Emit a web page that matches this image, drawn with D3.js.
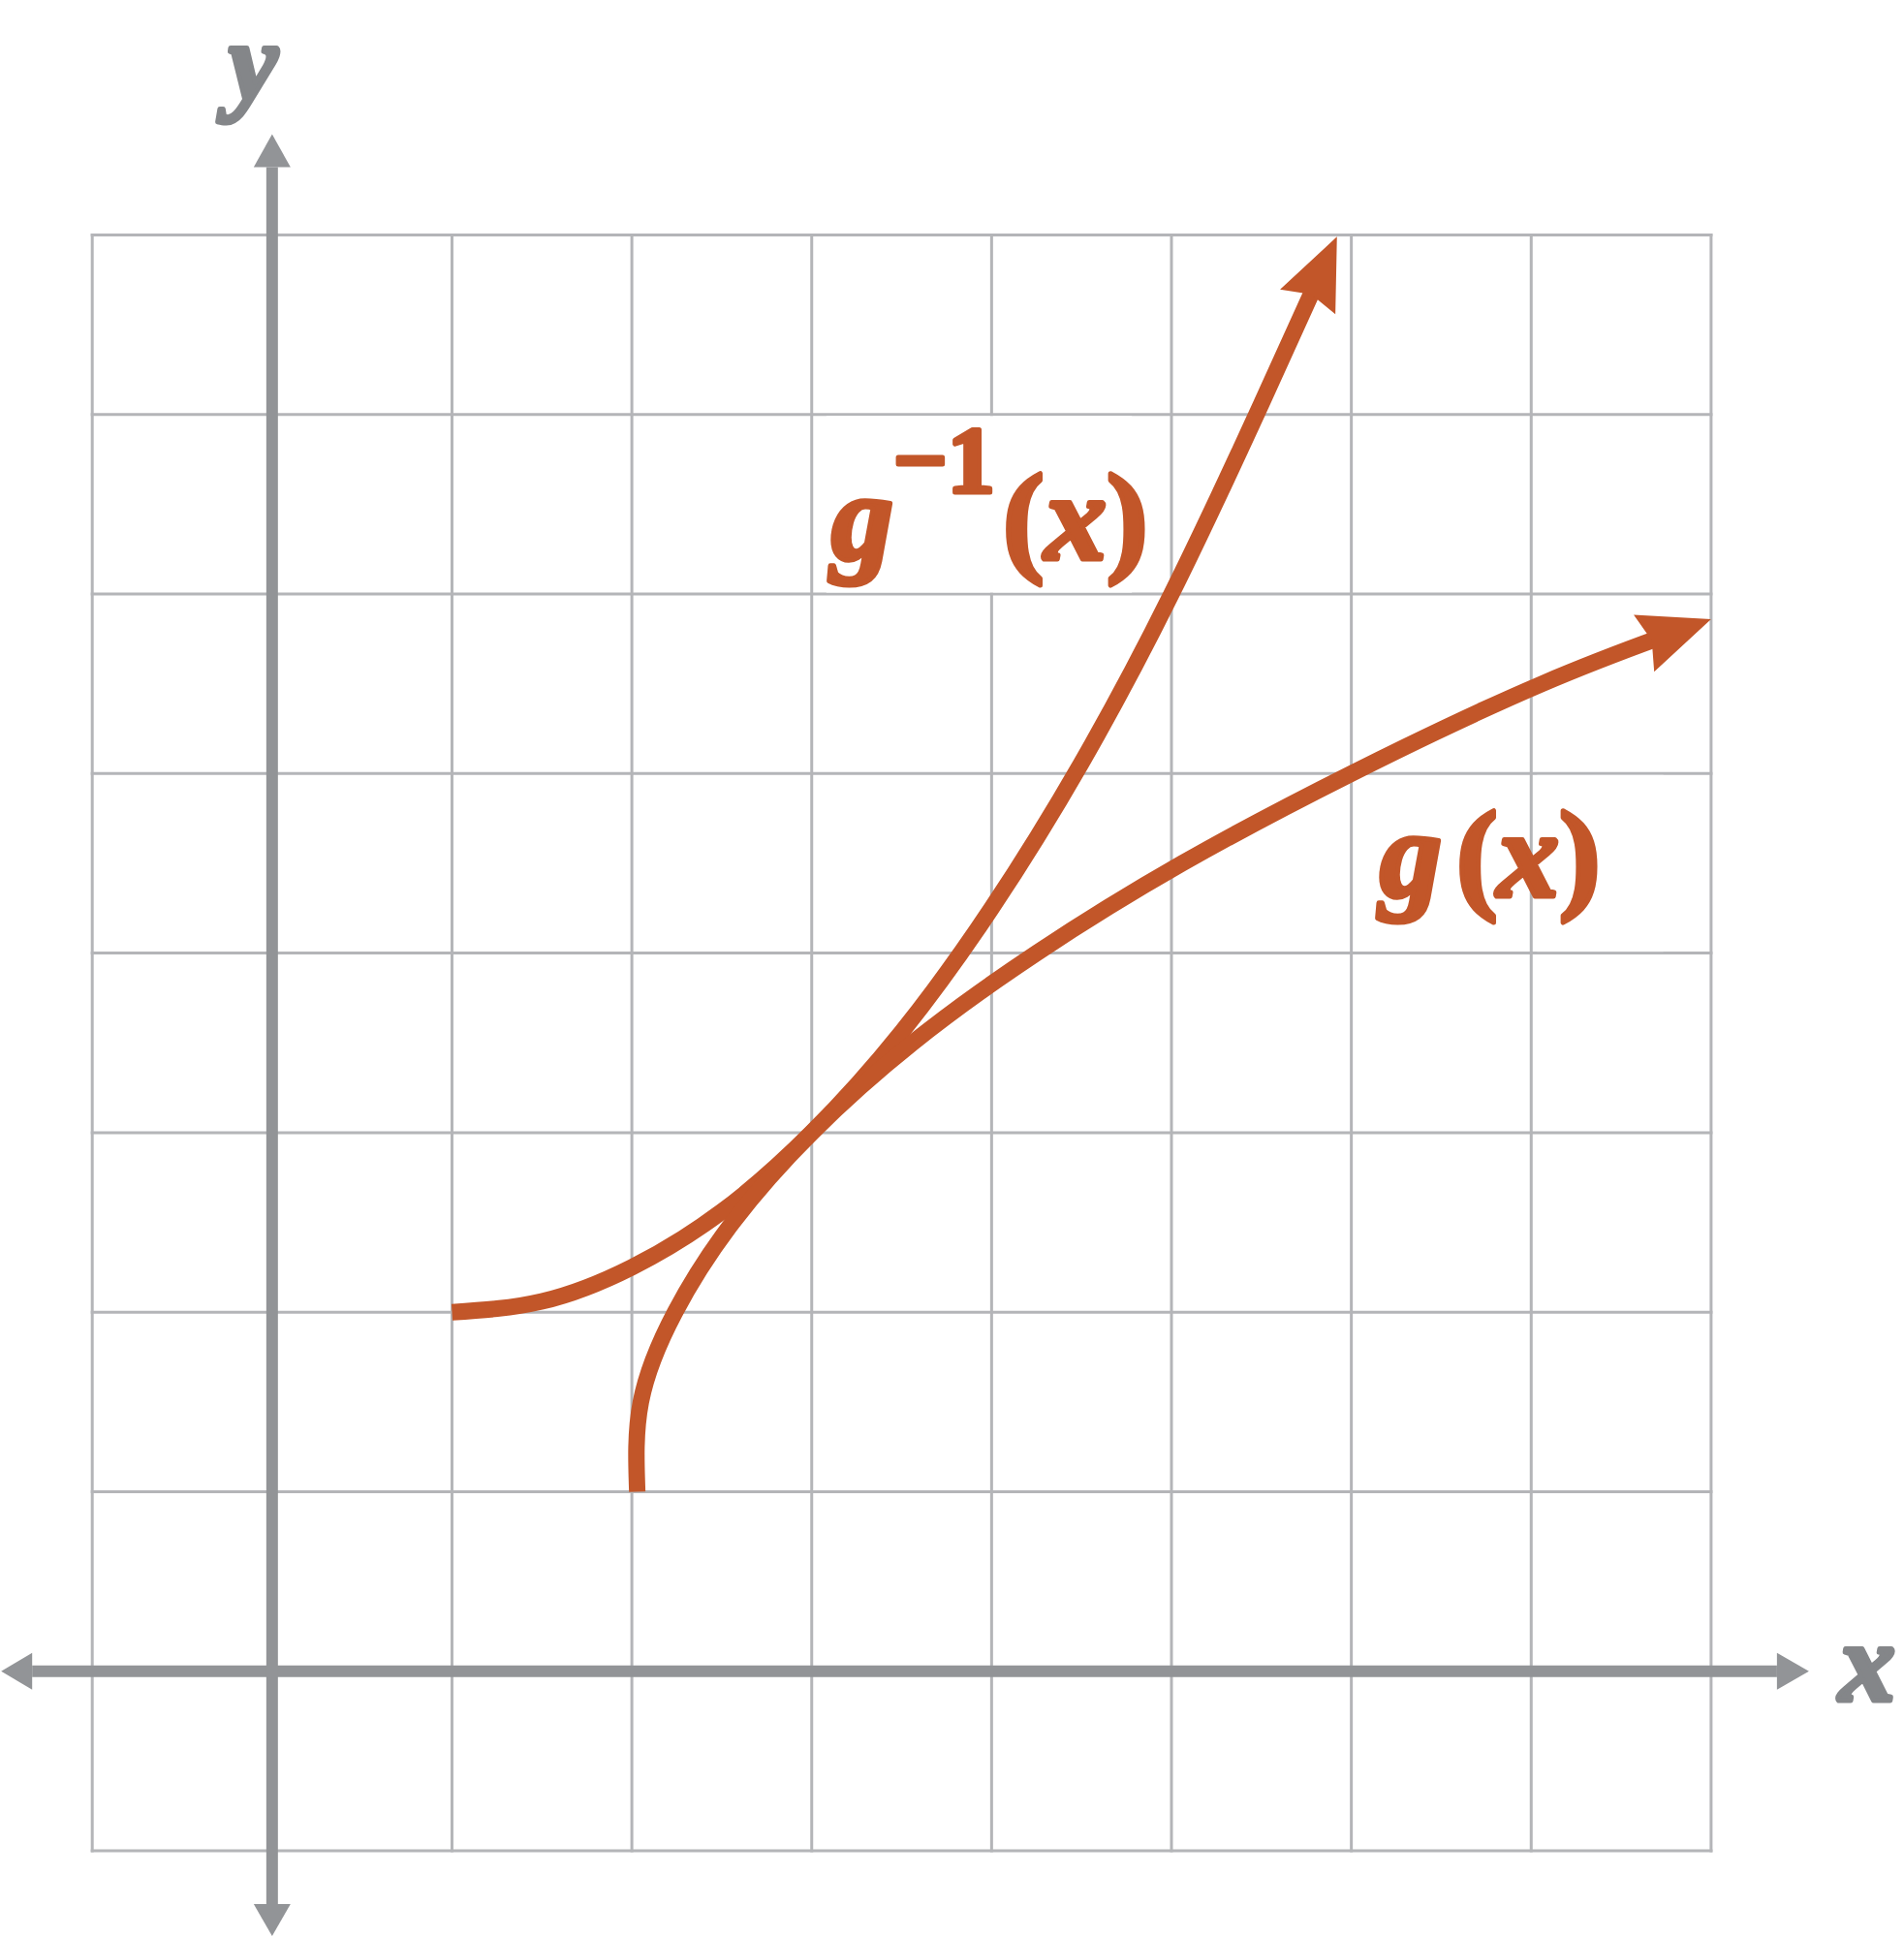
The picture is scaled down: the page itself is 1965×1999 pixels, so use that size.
<!DOCTYPE html>
<html>
<head>
<meta charset="utf-8">
<script src="https://cdn.jsdelivr.net/npm/d3@7"></script>
<style>
    body { margin: 0; background: #fff; }
    svg { display: block; }
    .lbl { font-family: "Liberation Serif", "Times New Roman", Times, serif; font-weight: 700; stroke-linejoin: round; }
</style>
</head>
<body>
<div class="chart"></div>
<script>
// grid lines, one per unit
var gridTicks = [-1, 0, 1, 2, 3, 4, 5, 6, 7, 8];

// g^-1(x)
var gInvX = [1, 1.5, 2, 2.5, 3, 3.5, 4, 4.5, 5, 5.5, 5.92];
var gInvY = [2, 2.06, 2.25, 2.56, 3, 3.56, 4.25, 5.06, 6, 7.06, 7.99];

// g(x)
var gX = [2.03, 2.05, 2.24, 2.56, 3, 3.56, 4.25, 5.06, 6, 7.06, 8.0];
var gY = [1, 1.5, 2, 2.5, 3, 3.5, 4, 4.5, 5, 5.5, 5.86];

var width = 1965, height = 1999;
var gridColor = "#b4b5b8", axisColor = "#929497", curveColor = "#c25629";

window.onload = () => {

    var svg = d3.select(".chart").append("svg")
        .attr("width", width)
        .attr("height", height);

    var x = d3.scaleLinear().domain([-1, 8]).range([95.2, 1765.9]);
    var y = d3.scaleLinear().domain([-1, 8]).range([1910, 242.5]);

    // grid
    var grid = svg.append("g").attr("class", "grid")
        .attr("stroke", gridColor)
        .attr("stroke-width", 3)
        .attr("stroke-linecap", "square");
    grid.selectAll(".vline")
        .data(gridTicks)
        .enter().append("line")
        .attr("class", "vline")
        .attr("x1", function (d) { return x(d); })
        .attr("x2", function (d) { return x(d); })
        .attr("y1", y(-1))
        .attr("y2", y(8));
    grid.selectAll(".hline")
        .data(gridTicks)
        .enter().append("line")
        .attr("class", "hline")
        .attr("y1", function (d) { return y(d); })
        .attr("y2", function (d) { return y(d); })
        .attr("x1", x(-1))
        .attr("x2", x(8));

    // white boxes behind the labels
    svg.append("rect")
        .attr("x", x(3) + 15).attr("y", y(7) + 1.5)
        .attr("width", x(4.78) - x(3) - 15)
        .attr("height", y(6) - y(7) - 3)
        .attr("fill", "#fff");
    svg.append("rect")
        .attr("x", x(7) + 6).attr("y", y(5) + 1.5)
        .attr("width", x(7.735) - x(7) - 6)
        .attr("height", y(4) - y(5) - 3)
        .attr("fill", "#fff");

    // axes with arrow heads
    var axes = svg.append("g").attr("class", "axes");
    var x0 = x(0), y0 = y(0);
    var left = x(-1) - 62, right = x(8) + 68, top = y(8) - 70, bottom = y(-1) + 55;
    axes.append("line")
        .attr("x1", left).attr("x2", right)
        .attr("y1", y0).attr("y2", y0)
        .attr("stroke", axisColor).attr("stroke-width", 12);
    axes.append("line")
        .attr("y1", top).attr("y2", bottom)
        .attr("x1", x0).attr("x2", x0)
        .attr("stroke", axisColor).attr("stroke-width", 12);
    var tri = function (tx, ty, bx1, by1, bx2, by2) {
        return [[tx, ty], [bx1, by1], [bx2, by2]].join(" ");
    };
    axes.append("polygon").attr("fill", axisColor)
        .attr("points", tri(left - 32, y0, left, y0 - 19, left, y0 + 19));
    axes.append("polygon").attr("fill", axisColor)
        .attr("points", tri(right + 33, y0, right, y0 - 19, right, y0 + 19));
    axes.append("polygon").attr("fill", axisColor)
        .attr("points", tri(x0, top - 34, x0 - 19, top, x0 + 19, top));
    axes.append("polygon").attr("fill", axisColor)
        .attr("points", tri(x0, bottom + 33, x0 - 19, bottom, x0 + 19, bottom));

    // axis letters (stroke thickens them, the font has no heavy italic)
    svg.append("text").attr("class", "lbl")
        .attr("x", 236).attr("y", 103)
        .attr("font-style", "italic")
        .attr("font-size", 114)
        .attr("fill", "#848689")
        .attr("stroke", "#848689").attr("stroke-width", 5)
        .text("y");
    svg.append("text").attr("class", "lbl")
        .attr("x", 1898).attr("y", 1755)
        .attr("font-style", "italic")
        .attr("font-size", 116)
        .attr("fill", "#848689")
        .attr("stroke", "#848689").attr("stroke-width", 5)
        .text("x");

    // curves
    var line = d3.line()
        .x(function (d) { return x(d[0]); })
        .y(function (d) { return y(d[1]); })
        .curve(d3.curveNatural);

    var drawCurve = function (xs, ys) {
        var pts = xs.map(function (v, i) { return [v, ys[i]]; });
        var path = svg.append("path")
            .datum(pts)
            .attr("d", line)
            .attr("fill", "none")
            .attr("stroke", curveColor)
            .attr("stroke-width", 17)
            .attr("stroke-linecap", "butt");
        var L = path.node().getTotalLength();
        path.attr("stroke-dasharray", (L - 55) + " " + L);

        // notched arrow head at the end
        var tip = path.node().getPointAtLength(L);
        var back = path.node().getPointAtLength(L - 45);
        var ang = Math.atan2(tip.y - back.y, tip.x - back.x) * 180 / Math.PI;
        svg.append("polygon")
            .attr("points", "0,0 -73.6,-31.3 -65,0 -73.6,31.3")
            .attr("fill", curveColor)
            .attr("transform", "translate(" + tip.x + "," + tip.y + ") rotate(" + ang + ")");
    };
    drawCurve(gInvX, gInvY);
    drawCurve(gX, gY);

    // labels
    var lab1 = svg.append("text").attr("class", "lbl")
        .attr("fill", curveColor)
        .attr("stroke", curveColor).attr("stroke-width", 5)
        .attr("font-size", 128);
    lab1.append("tspan").attr("x", 858).attr("y", 577).attr("font-style", "italic").text("g");
    lab1.append("tspan").attr("x", 922).attr("y", 508).attr("font-size", 98).text("\u22121");
    lab1.append("tspan").attr("x", 1035).attr("y", 577).text("(");
    lab1.append("tspan").attr("x", 1078).attr("y", 577).attr("font-style", "italic").text("x");
    lab1.append("tspan").attr("x", 1142).attr("y", 577).text(")");

    var lab2 = svg.append("text").attr("class", "lbl")
        .attr("fill", curveColor)
        .attr("stroke", curveColor).attr("stroke-width", 5)
        .attr("font-size", 128);
    lab2.append("tspan").attr("x", 1424).attr("y", 925).attr("font-style", "italic").text("g");
    lab2.append("tspan").attr("x", 1503).attr("y", 925).text("(");
    lab2.append("tspan").attr("x", 1545).attr("y", 925).attr("font-style", "italic").text("x");
    lab2.append("tspan").attr("x", 1609).attr("y", 925).text(")");
}
</script>
</body>
</html>
